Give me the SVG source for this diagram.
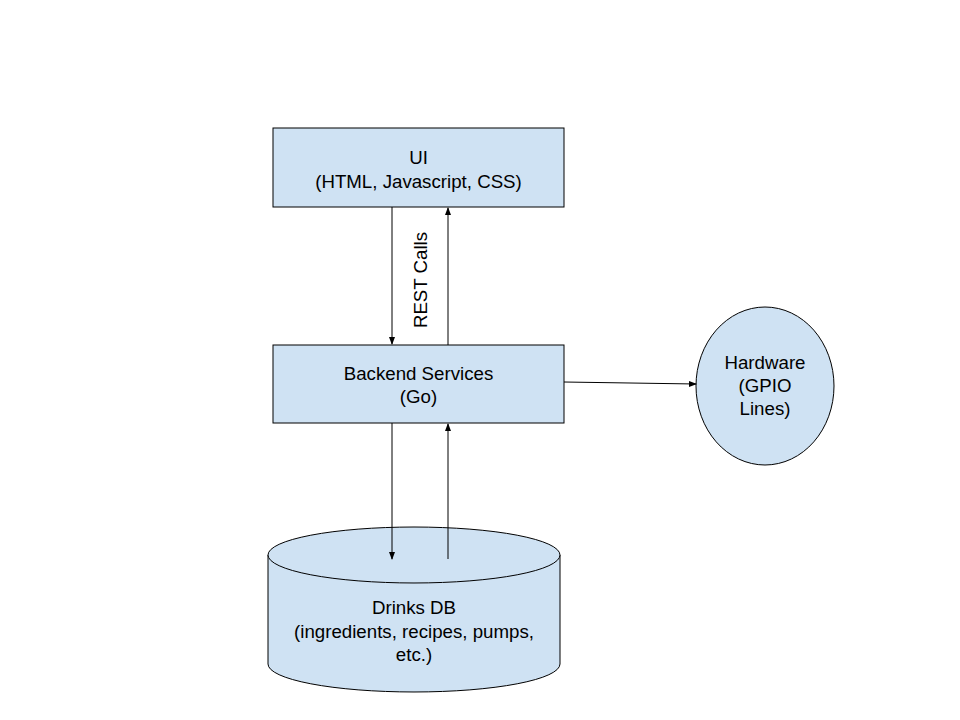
<svg xmlns="http://www.w3.org/2000/svg" width="960" height="720" viewBox="0 0 960 720">
<style>
.n{fill:#cfe2f3;stroke:#000;stroke-width:1}
.t{font-family:"Liberation Sans",Arial,sans-serif;font-size:18.7px;fill:#000;text-anchor:middle}
.c{stroke:#000;stroke-width:1;fill:none;marker-end:url(#a)}
</style>
<defs>
<marker id="a" viewBox="0 0 8 8" refX="7" refY="4" markerWidth="8" markerHeight="8" markerUnits="userSpaceOnUse" orient="auto">
<path d="M0,1 L8,4 L0,7 Z" fill="#000"/>
</marker>
</defs>
<rect width="960" height="720" fill="#fff"/>
<g id="ui">
<rect class="n" x="273" y="128" width="291" height="79"/>
<text class="t" x="418.5" y="164">UI</text>
<text class="t" x="418.5" y="188">(HTML, Javascript, CSS)</text>
</g>
<g id="backend">
<rect class="n" x="273" y="345" width="291" height="78"/>
<text class="t" x="418.5" y="380">Backend Services</text>
<text class="t" x="418.5" y="403">(Go)</text>
</g>
<g id="hardware">
<ellipse class="n" cx="765" cy="386" rx="69" ry="79"/>
<text class="t" x="765" y="369">Hardware</text>
<text class="t" x="765" y="392">(GPIO</text>
<text class="t" x="765" y="415">Lines)</text>
</g>
<g id="db">
<path class="n" d="M268,555 A146,28 0 0 1 560,555 L560,664 A146,28 0 0 1 268,664 Z"/>
<path class="n" d="M268,555 A146,28 0 0 0 560,555" fill="none"/>
<text class="t" x="414" y="614">Drinks DB</text>
<text class="t" x="414" y="638">(ingredients, recipes, pumps,</text>
<text class="t" x="414" y="661">etc.)</text>
</g>
<g id="connectors">
<line class="c" x1="392" y1="207" x2="392" y2="344"/>
<line class="c" x1="448" y1="345" x2="448" y2="208"/>
<text class="t" transform="translate(427,280) rotate(-90)">REST Calls</text>
<line class="c" x1="392" y1="423" x2="392" y2="559"/>
<line class="c" x1="448" y1="559" x2="448" y2="424"/>
<line class="c" x1="564" y1="382" x2="696" y2="384"/>
</g>
</svg>
